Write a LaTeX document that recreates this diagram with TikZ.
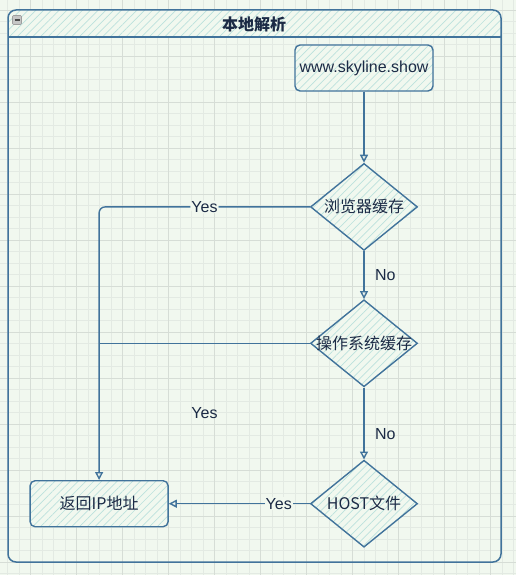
\documentclass[tikz,border=0pt]{standalone}
\usepackage{fontspec}
\setmainfont{Liberation Sans}
\newfontfamily\cjk{Noto Sans CJK SC}
\usetikzlibrary{positioning,arrows.meta,shapes.geometric,patterns.meta}
\definecolor{paper}{HTML}{F1F8EF}
\definecolor{gridminor}{HTML}{E3EAE3}
\definecolor{gridmajor}{HTML}{D6DDD6}
\definecolor{ink}{HTML}{41739B}
\definecolor{hatch}{HTML}{BCE1DD}
\definecolor{txt}{HTML}{1B2A45}
\tikzset{
flowchart/.style={
    x=1pt,
    y=-1pt,
    line width=1.4pt,
    color=ink,
    text=txt,
    font=\fontsize{16}{19}\selectfont
},
hatched/.style={
    preaction={fill=paper},
    pattern={Lines[angle=45,distance=5.5pt,line width=0.7pt]},
    pattern color=hatch
},
process/.style={
    rectangle,
    rounded corners=5pt,
    draw=ink,
    hatched,
    minimum width=138pt,
    minimum height=46pt,
    inner sep=0pt
},
decision/.style={
    diamond,
    draw=ink,
    hatched,
    minimum width=107pt,
    minimum height=87pt,
    inner sep=0pt
},
flow/.style={
    -{Triangle[open,length=8pt,width=8pt]}
},
tag/.style={
    fill=paper,
    inner sep=1pt
}}

\begin{document}
\begin{tikzpicture}[flowchart]
\useasboundingbox (0,0) rectangle (516,575);
\fill[paper] (0,0) rectangle (516,575);
% grid
\foreach \gx in {0,...,44} \draw[gridminor, line width=0.7pt] ({7.7+11.5*\gx},0) -- ++(0,575);
\foreach \gy in {-1,...,49} \draw[gridminor, line width=0.7pt] (0,{10+11.5*\gy}) -- ++(516,0);
\foreach \gx in {-1,...,11} \draw[gridmajor, line width=0.8pt] ({30.7+46*\gx},0) -- ++(0,575);
\foreach \gy in {0,...,12} \draw[gridmajor, line width=0.8pt] (0,{10+46*\gy}) -- ++(516,0);

% pool
\begin{scope}
\clip[rounded corners=8pt] (8,10) rectangle (501,562);
\fill[hatched] (8,10) rectangle (501,37);
\end{scope}
\draw[line width=1.5pt] (8,37) -- (501,37);
\draw[line width=1.5pt, rounded corners=8pt] (8,10) rectangle (501,562);
\draw[fill=gray!45, draw=gray!75, line width=0.6pt, rounded corners=1pt] (12.5,15.5) rectangle (21.5,24.5);
\draw[black!70, line width=1.2pt] (14.5,20) -- (19.5,20);
\node (title) at (254,24) {\cjk\bfseries 本地解析};

% nodes
\node[process]  (www)     at (364,68)            {www.skyline.show};
\node[decision] (browser) [below=71pt of www]     {\makebox[0pt]{\cjk 浏览器缓存}};
\node[decision] (os)      [below=48pt of browser] {\makebox[0pt]{\cjk 操作系统缓存}};
\node[decision] (host)    [below=72pt of os]      {\makebox[0pt]{\cjk HOST文件}};
\node[process]  (ret)     [left=141pt of host]    {\cjk 返回IP地址};

% connectors
\path (www)     edge[flow]    (browser);
\path (browser) edge[flow]    node[right=7pt] {No} (os);
\path (os)      edge[flow]    node[right=7pt, pos=0.65] {No} (host);
\draw[flow, rounded corners=6pt] (browser.west) -| node[tag, pos=0.25] {Yes} (ret.north);
\draw (os.west) -- node[yshift=-70pt] {Yes} (os.west -| ret.north);
\path (host)    edge[flow]    node[tag, pos=0.22] {Yes} (ret);
\end{tikzpicture}
\end{document}
